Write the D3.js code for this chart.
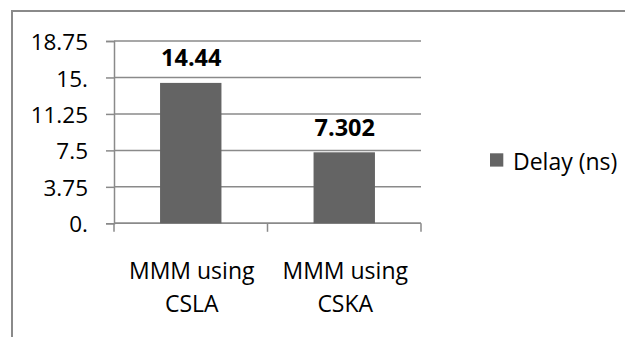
<!DOCTYPE html>
<html>
<head>
<meta charset="utf-8">
<script src="https://cdn.jsdelivr.net/npm/d3@7"></script>
<style>
  html, body { margin: 0; padding: 0; background: #fff; }
  svg { display: block; }
  text { font-family: "Open Sans", "Liberation Sans", sans-serif; fill: #000; }
</style>
</head>
<body>
<svg id="chart" width="625" height="337"></svg>
<script>
const categories = [["MMM using", "CSLA"], ["MMM using", "CSKA"]];
const values = [14.44, 7.302];
const valueLabels = ["14.44", "7.302"];
const seriesName = "Delay (ns)";
const tickValues = [0, 3.75, 7.5, 11.25, 15, 18.75];
const tickLabels = ["0.", "3.75", "7.5", "11.25", "15.", "18.75"];

const svg = d3.select("#chart");
const plot = { left: 114, right: 421, top: 41, bottom: 223.3 };
const grey = "#8a8a8a";
const barColor = "#646464";

// outer frame (extends past right/bottom edges)
svg.append("rect")
  .attr("x", 12).attr("y", 11)
  .attr("width", 800).attr("height", 600)
  .attr("fill", "none").attr("stroke", grey).attr("stroke-width", 2);

const x = d3.scaleBand()
  .domain(categories.map((d, i) => i))
  .range([plot.left, plot.right])
  .paddingInner(0).paddingOuter(0);

const y = d3.scaleLinear()
  .domain([0, 18.75])
  .range([plot.bottom, plot.top]);

// gridlines
svg.append("g").selectAll("line")
  .data(tickValues)
  .join("line")
  .attr("x1", plot.left).attr("x2", plot.right)
  .attr("y1", d => y(d)).attr("y2", d => y(d))
  .attr("stroke", grey).attr("stroke-width", 1.5);

// y axis
const yAxis = d3.axisLeft(y)
  .tickValues(tickValues)
  .tickSize(8)
  .tickPadding(18)
  .tickFormat((d, i) => tickLabels[i]);
const gy = svg.append("g")
  .attr("transform", `translate(${plot.left},0)`)
  .call(yAxis);
gy.select(".domain").attr("stroke", grey).attr("stroke-width", 1.5);
gy.selectAll(".tick line").attr("stroke", grey).attr("stroke-width", 1.5);
gy.selectAll(".tick text")
  .attr("font-size", 22.5)
  .attr("font-family", "'Open Sans', sans-serif")
  .attr("fill", "#000")
  .attr("dy", "0.38em");

// x axis ticks at band boundaries
const boundaries = [plot.left, ...categories.map((d, i) => x(i) + x.bandwidth())];
svg.append("g").selectAll("line")
  .data(boundaries)
  .join("line")
  .attr("x1", d => d).attr("x2", d => d)
  .attr("y1", plot.bottom).attr("y2", plot.bottom + 8.5)
  .attr("stroke", grey).attr("stroke-width", 1.5);
svg.append("line")
  .attr("x1", plot.left).attr("x2", plot.right)
  .attr("y1", plot.bottom).attr("y2", plot.bottom)
  .attr("stroke", grey).attr("stroke-width", 1.5);

// bars (gap width 150%)
const barW = x.bandwidth() * 0.4;
svg.append("g").selectAll("rect")
  .data(values)
  .join("rect")
  .attr("x", (d, i) => x(i) + (x.bandwidth() - barW) / 2)
  .attr("width", barW)
  .attr("y", d => y(d))
  .attr("height", d => y(0) - y(d))
  .attr("fill", barColor);

// data labels
svg.append("g").selectAll("text")
  .data(values)
  .join("text")
  .attr("x", (d, i) => x(i) + x.bandwidth() / 2 + 0.5)
  .attr("y", d => y(d) - 16.5)
  .attr("text-anchor", "middle")
  .attr("font-size", 23.5)
  .attr("font-weight", "bold")
  .text((d, i) => valueLabels[i]);

// category labels
const cat = svg.append("g").selectAll("text")
  .data(categories)
  .join("text")
  .attr("text-anchor", "middle")
  .attr("font-size", 23)
  .attr("x", (d, i) => x(i) + x.bandwidth() / 2 + 1)
  .attr("y", 278.5);
cat.selectAll("tspan")
  .data(d => d)
  .join("tspan")
  .attr("x", function() { return d3.select(this.parentNode).attr("x"); })
  .attr("dy", (d, i) => i === 0 ? 0 : 33.3)
  .text(d => d);

// legend
const leg = svg.append("g");
leg.append("rect")
  .attr("x", 490).attr("y", 153.3)
  .attr("width", 13.3).attr("height", 13.3)
  .attr("fill", barColor);
leg.append("text")
  .attr("x", 513).attr("y", 170)
  .attr("font-size", 23)
  .text(seriesName);
</script>
</body>
</html>
